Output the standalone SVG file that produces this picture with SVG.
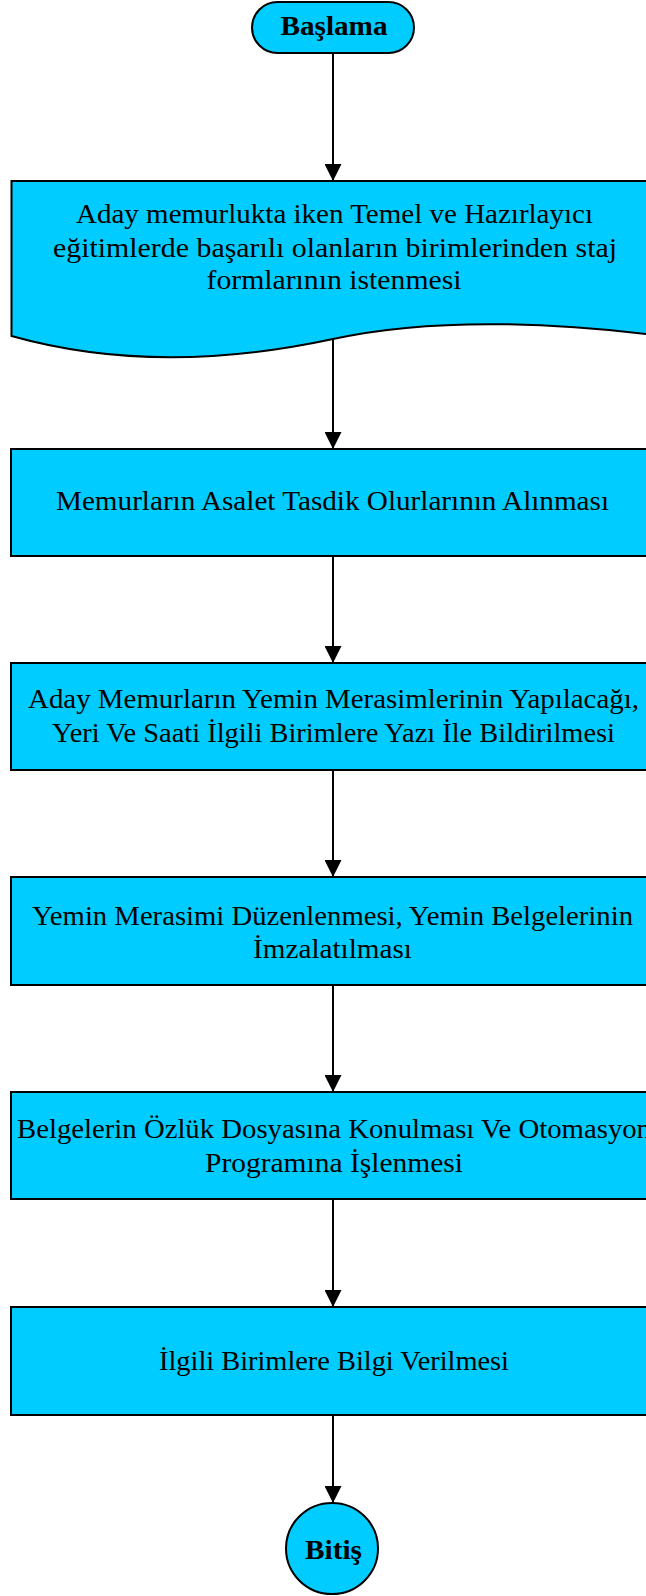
<svg xmlns="http://www.w3.org/2000/svg" width="646" height="1596" viewBox="0 0 646 1596">
<style>
.shape{fill:#00CCFF;stroke:#000;stroke-width:2}
.t{font-family:"Liberation Serif","Times New Roman",serif;font-size:27px;fill:#000;text-anchor:middle}
.b{font-weight:bold}
.c{stroke:#000;stroke-width:2;fill:none;marker-end:url(#ah)}
</style>
<defs>
<marker id="ah" markerUnits="userSpaceOnUse" markerWidth="18" markerHeight="17" refX="17" refY="8.5" orient="auto">
<path d="M0,0 L17,8.5 L0,17 z" fill="#000"/>
</marker>
</defs>
<rect width="646" height="1596" fill="#fff"/>
<g id="connectors">
<line class="c" x1="333" y1="339" x2="333" y2="449"/>
<line class="c" x1="333" y1="53" x2="333" y2="181"/>
<line class="c" x1="333" y1="556" x2="333" y2="663"/>
<line class="c" x1="333" y1="770" x2="333" y2="877"/>
<line class="c" x1="333" y1="985" x2="333" y2="1092"/>
<line class="c" x1="333" y1="1199" x2="333" y2="1307"/>
<line class="c" x1="333" y1="1415" x2="333" y2="1503"/>
</g>
<g id="start">
<rect class="shape" x="252" y="2" width="162" height="51" rx="25.5"/>
<text class="t b" x="334" y="35" textLength="107" lengthAdjust="spacingAndGlyphs">Başlama</text>
</g>
<g id="doc">
<path class="shape" d="M11.5,181 L655,181 L655,335 C530,320 420,320 333,339 C226,362 118,366 11.5,336 Z"/>
<text class="t" x="334.5" y="223" textLength="517" lengthAdjust="spacingAndGlyphs">Aday memurlukta iken Temel ve Hazırlayıcı</text>
<text class="t" x="335" y="257" textLength="564" lengthAdjust="spacingAndGlyphs">eğitimlerde başarılı olanların birimlerinden staj</text>
<text class="t" x="334" y="289" textLength="255" lengthAdjust="spacingAndGlyphs">formlarının istenmesi</text>
</g>
<g id="box2">
<rect class="shape" x="11" y="449" width="644" height="107"/>
<text class="t" x="332.5" y="510" textLength="553" lengthAdjust="spacingAndGlyphs">Memurların Asalet Tasdik Olurlarının Alınması</text>
</g>
<g id="box3">
<rect class="shape" x="11" y="663" width="644" height="107"/>
<text class="t" x="333.5" y="708" textLength="611" lengthAdjust="spacingAndGlyphs">Aday Memurların Yemin Merasimlerinin Yapılacağı,</text>
<text class="t" x="333.5" y="742" textLength="563" lengthAdjust="spacingAndGlyphs">Yeri Ve Saati İlgili Birimlere Yazı İle Bildirilmesi</text>
</g>
<g id="box4">
<rect class="shape" x="11" y="877" width="644" height="108"/>
<text class="t" x="332.5" y="925" textLength="601" lengthAdjust="spacingAndGlyphs">Yemin Merasimi Düzenlenmesi, Yemin Belgelerinin</text>
<text class="t" x="332.5" y="958" textLength="159" lengthAdjust="spacingAndGlyphs">İmzalatılması</text>
</g>
<g id="box5">
<rect class="shape" x="11" y="1092" width="644" height="107"/>
<text class="t" x="334" y="1138" textLength="634" lengthAdjust="spacingAndGlyphs">Belgelerin Özlük Dosyasına Konulması Ve Otomasyon</text>
<text class="t" x="334" y="1172" textLength="258" lengthAdjust="spacingAndGlyphs">Programına İşlenmesi</text>
</g>
<g id="box6">
<rect class="shape" x="11" y="1307" width="644" height="108"/>
<text class="t" x="334" y="1370" textLength="350" lengthAdjust="spacingAndGlyphs">İlgili Birimlere Bilgi Verilmesi</text>
</g>
<g id="end">
<ellipse class="shape" cx="332" cy="1548.5" rx="46" ry="45.5"/>
<text class="t b" x="333.5" y="1559" textLength="57" lengthAdjust="spacingAndGlyphs">Bitiş</text>
</g>
</svg>
